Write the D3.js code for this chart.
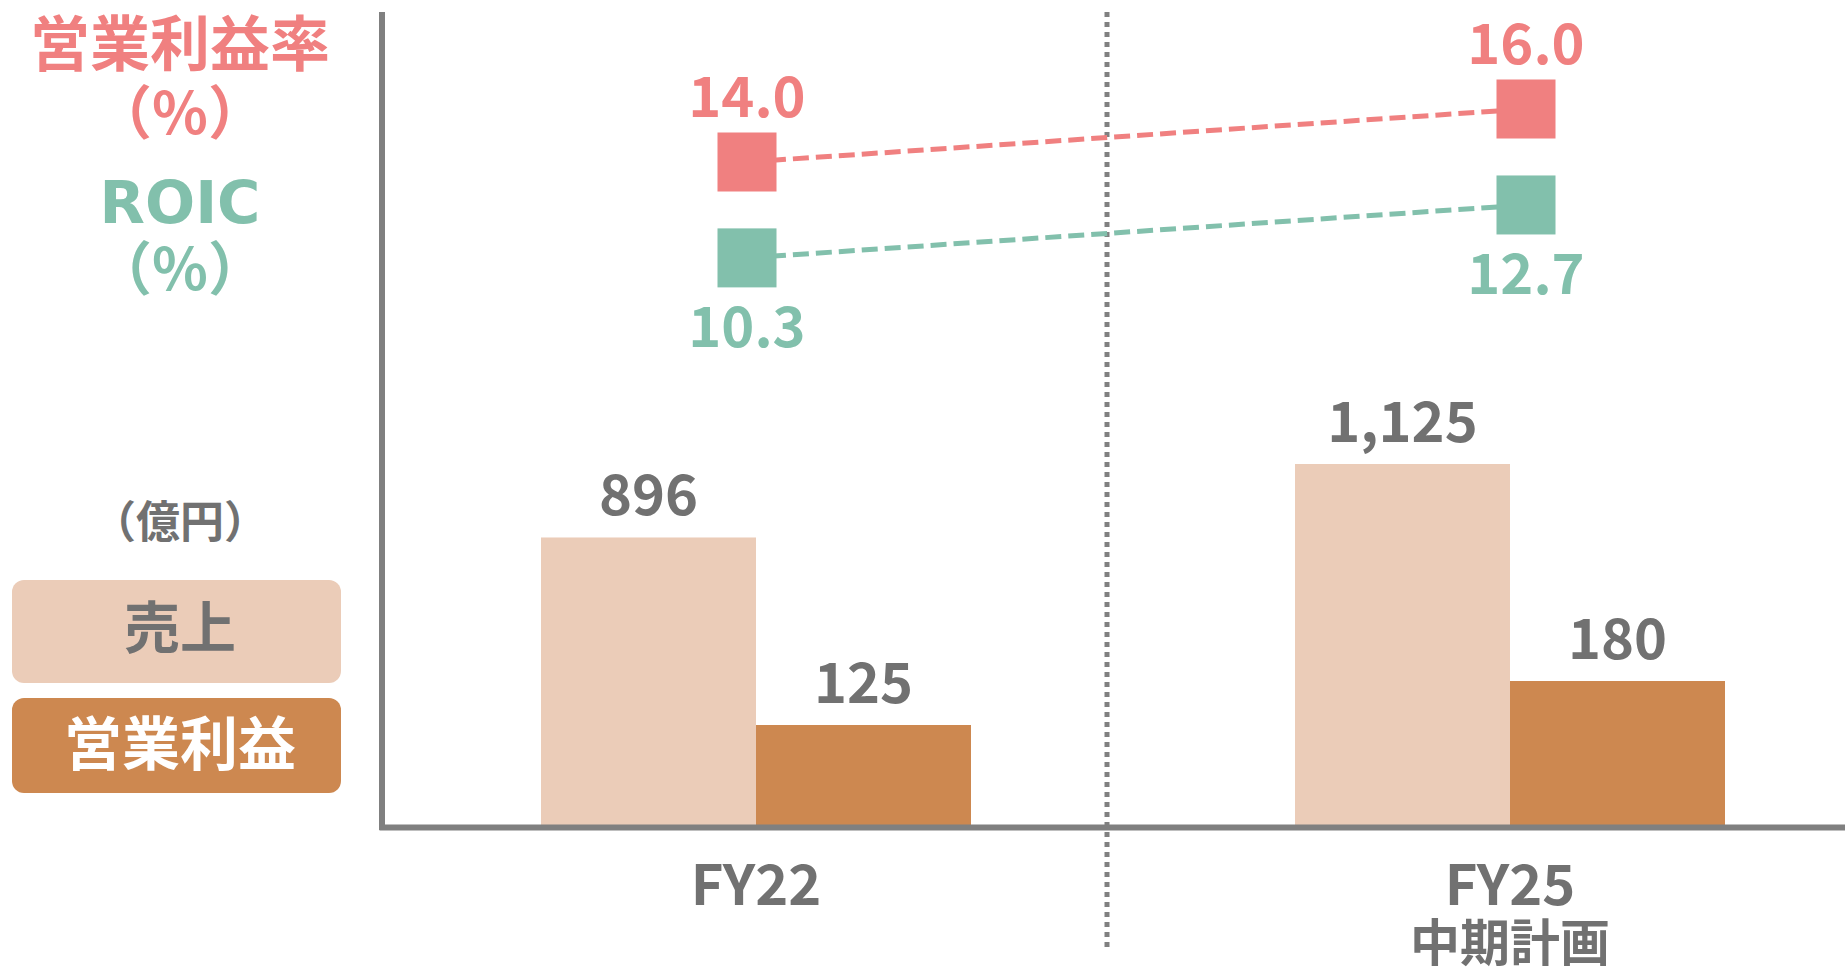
<!DOCTYPE html>
<html>
<head>
<meta charset="utf-8">
<script src="https://cdn.jsdelivr.net/npm/d3@7"></script>
<style>
  body { margin: 0; background: #fff; }
  text { font-family: "Noto Sans CJK JP", "Noto Sans", sans-serif; font-weight: bold; }
</style>
</head>
<body>
<svg id="chart" width="1845" height="970"></svg>
<script>
// data
const categories = ["FY22", "FY25"];
const subLabels = ["", "中期計画"];
const series = ["売上", "営業利益"];
const sales = [896, 1125];
const profit = [125, 180];
const opMargin = [14.0, 16.0];
const roic = [10.3, 12.7];

const gray = "#808080";
const textGray = "#717171";
const red = "#F08080";
const green = "#82C0AC";
const barColors = { "売上": "#EBCCB8", "営業利益": "#CD8850" };

const svg = d3.select("#chart");

const x0 = d3.scaleBand().domain(categories).range([379, 1887]);
const x1 = d3.scaleBand().domain(series).range([0, 430]);
const xPt = d3.scalePoint().domain(categories).range([747, 1526]);
const ySales = d3.scaleLinear().domain([0, 1125]).range([825, 464]);
const yProfit = d3.scaleLinear().domain([0, 180]).range([825, 681]);
const yOpm = d3.scaleLinear().domain([0, 20]).range([533, 3]);
const yRoic = d3.scaleLinear().domain([0, 20]).range([485, 44]);

const cx = c => x0(c) + x0.bandwidth() / 2;
const groupLeft = c => cx(c) - x1.range()[1] / 2;

// bars
const barData = categories.flatMap((c, i) => [
  { cat: c, s: "売上", v: sales[i], y: ySales },
  { cat: c, s: "営業利益", v: profit[i], y: yProfit }
]);

svg.append("g").selectAll("rect")
  .data(barData)
  .join("rect")
  .attr("x", d => groupLeft(d.cat) + x1(d.s))
  .attr("width", x1.bandwidth())
  .attr("y", d => d.y(d.v))
  .attr("height", d => d.y(0) - d.y(d.v))
  .attr("fill", d => barColors[d.s]);

svg.append("g").selectAll("text")
  .data(barData)
  .join("text")
  .attr("x", d => groupLeft(d.cat) + x1(d.s) + x1.bandwidth() / 2)
  .attr("y", d => d.y(d.v) - 22)
  .attr("text-anchor", "middle")
  .attr("font-size", 56)
  .attr("fill", textGray)
  .text(d => d3.format(",")(d.v));

// separator (dotted)
svg.append("line")
  .attr("x1", 1107).attr("x2", 1107)
  .attr("y1", 12).attr("y2", 948)
  .attr("stroke", gray)
  .attr("stroke-width", 5)
  .attr("stroke-dasharray", "5,5");

// axes
svg.append("line")
  .attr("x1", 382).attr("x2", 382)
  .attr("y1", 12).attr("y2", 830)
  .attr("stroke", gray)
  .attr("stroke-width", 6);

const xAxis = svg.append("g")
  .attr("transform", "translate(0,827)")
  .call(d3.axisBottom(x0).tickSize(0).tickSizeOuter(0).tickPadding(0));
xAxis.select(".domain").attr("stroke", gray).attr("stroke-width", 6);
xAxis.selectAll(".tick text").each(function (d, i) {
  const t = d3.select(this).text(null).attr("fill", textGray).attr("dy", null).attr("y", 0);
  t.append("tspan").attr("x", 0).attr("y", 78).attr("font-size", 56).text(d);
  if (subLabels[i]) {
    t.append("tspan").attr("x", 0).attr("y", 134).attr("font-size", 50).text(subLabels[i]);
  }
});

// percentage lines
const lineGen = d3.line();
const pctSeries = [
  { vals: opMargin, y: yOpm, color: red, above: true },
  { vals: roic, y: yRoic, color: green, above: false }
];
const msize = 59;

pctSeries.forEach(s => {
  const pts = categories.map((c, i) => [xPt(c), s.y(s.vals[i])]);
  svg.append("path")
    .attr("d", lineGen(pts))
    .attr("fill", "none")
    .attr("stroke", s.color)
    .attr("stroke-width", 5)
    .attr("stroke-dasharray", "16,7");
  svg.append("g").selectAll("rect")
    .data(pts)
    .join("rect")
    .attr("x", p => p[0] - msize / 2)
    .attr("y", p => p[1] - msize / 2)
    .attr("width", msize)
    .attr("height", msize)
    .attr("fill", s.color);
  svg.append("g").selectAll("text")
    .data(pts)
    .join("text")
    .attr("x", p => p[0])
    .attr("y", p => s.above ? p[1] - msize / 2 - 16 : p[1] + msize / 2 + 60)
    .attr("text-anchor", "middle")
    .attr("font-size", 56)
    .attr("fill", s.color)
    .text((p, i) => d3.format(".1f")(s.vals[i]));
});

// left labels
const leftText = [
  { t: "営業利益率", y: 66, size: 60, color: red },
  { t: "（%）", y: 134, size: 58, color: red },
  { t: "ROIC", y: 223, size: 59, color: green, font: "DejaVu Sans" },
  { t: "（%）", y: 290, size: 58, color: green },
  { t: "（億円）", y: 538, size: 44, color: textGray }
];
svg.append("g").selectAll("text")
  .data(leftText)
  .join("text")
  .attr("x", 180)
  .attr("y", d => d.y)
  .attr("text-anchor", "middle")
  .attr("font-size", d => d.size)
  .style("font-family", d => d.font || null)
  .attr("fill", d => d.color)
  .text(d => d.t);

// legend boxes
const legend = [
  { s: "売上", y: 580, h: 103, textColor: textGray, ty: 648, size: 56 },
  { s: "営業利益", y: 698, h: 95, textColor: "#fff", ty: 765, size: 58 }
];
const lg = svg.append("g").selectAll("g").data(legend).join("g");
lg.append("rect")
  .attr("x", 12).attr("y", d => d.y)
  .attr("width", 329).attr("height", d => d.h)
  .attr("rx", 12)
  .attr("fill", d => barColors[d.s]);
lg.append("text")
  .attr("x", 180).attr("y", d => d.ty)
  .attr("text-anchor", "middle")
  .attr("font-size", d => d.size)
  .attr("fill", d => d.textColor)
  .text(d => d.s);
</script>
</body>
</html>
